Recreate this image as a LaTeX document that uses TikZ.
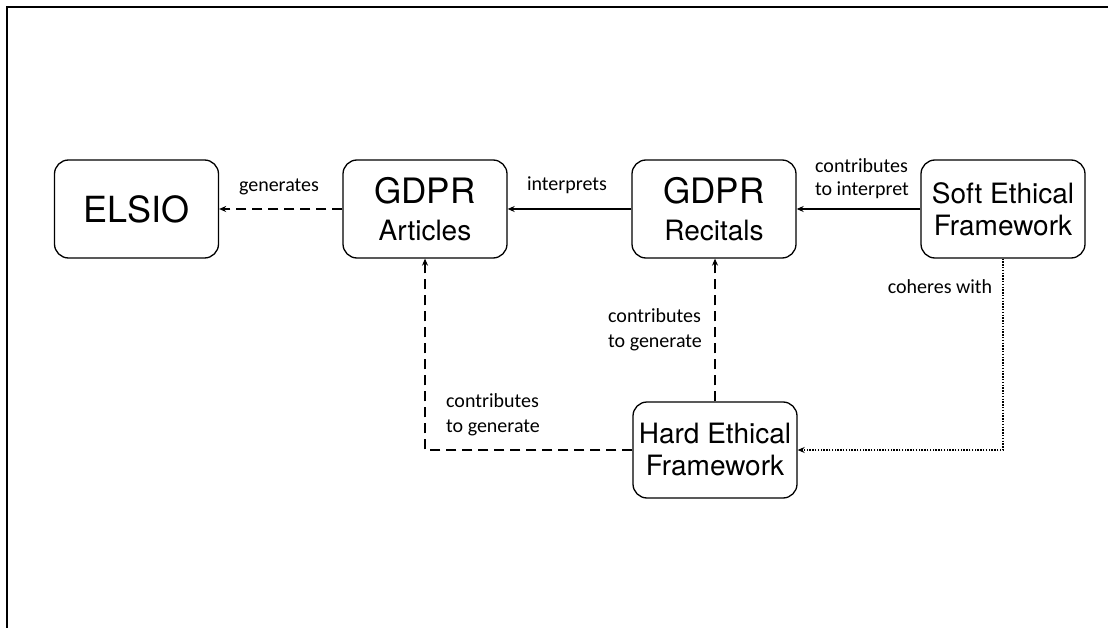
\documentclass[tikz,border=0pt]{standalone}
\usepackage{fontspec}
\setmainfont{TeX Gyre Heros}
\newfontfamily\lblfont{Carlito}
\usetikzlibrary{arrows.meta}
\begin{document}
\begin{tikzpicture}[x=1pt,y=-1pt,
  box/.style={draw,line width=1.3pt,rounded corners=14pt,minimum width=164pt,minimum height=98pt,align=center,inner sep=0pt},
  bigf/.style={font=\fontsize{28}{32}\selectfont},
  gdprf/.style={font=\fontsize{35}{38}\selectfont},
  lbl/.style={font=\lblfont\fontsize{20}{25}\selectfont,align=left,inner sep=0pt},
  conn/.style={line width=1.4pt,-{Stealth[length=7pt,width=6pt]}},
  dsh/.style={dash pattern=on 10pt off 6pt},
  dotl/.style={dash pattern=on 1.4pt off 1.4pt}]
\useasboundingbox (0,0) rectangle (1108,628);
\draw[line width=2pt] (7,628) -- (7,7) -- (1108,7);

\node[box,font=\fontsize{36}{40}\selectfont] (elsio) at (136.5,209) {ELSIO};
\node[box,gdprf] (art) at (425,209) {GDPR\\[-1pt]{\fontsize{28}{38}\selectfont Articles}};
\node[box,gdprf] (rec) at (714,209) {GDPR\\[-1pt]{\fontsize{28}{38}\selectfont Recitals}};
\node[box,bigf] (soft) at (1003,209) {Soft Ethical\\Framework};
\node[box,bigf,minimum height=96pt] (hard) at (715,450) {Hard Ethical\\Framework};

\draw[conn,dsh] (art.west) -- (elsio.east);
\draw[conn] (rec.west) -- (art.east);
\draw[conn] (soft.west) -- (rec.east);
\draw[conn,dsh] (hard.north) -- (hard.north |- rec.south);
\draw[conn,dsh] (hard.west) -| (art.south);
\draw[conn,dotl] (soft.south) |- (hard.east);

\node[lbl] (l1) at (279,187) {generates};
\node[lbl] (l2) at (567,185) {interprets};
\node[lbl,font=\lblfont\fontsize{20}{23}\selectfont] (l3) at (862,179) {contributes\\to interpret};
\node[lbl] (l4) at (655,330) {contributes\\to generate};
\node[lbl] (l5) at (493,415) {contributes\\to generate};
\node[lbl] (l6) at (940,287) {coheres with};
\end{tikzpicture}
\end{document}
